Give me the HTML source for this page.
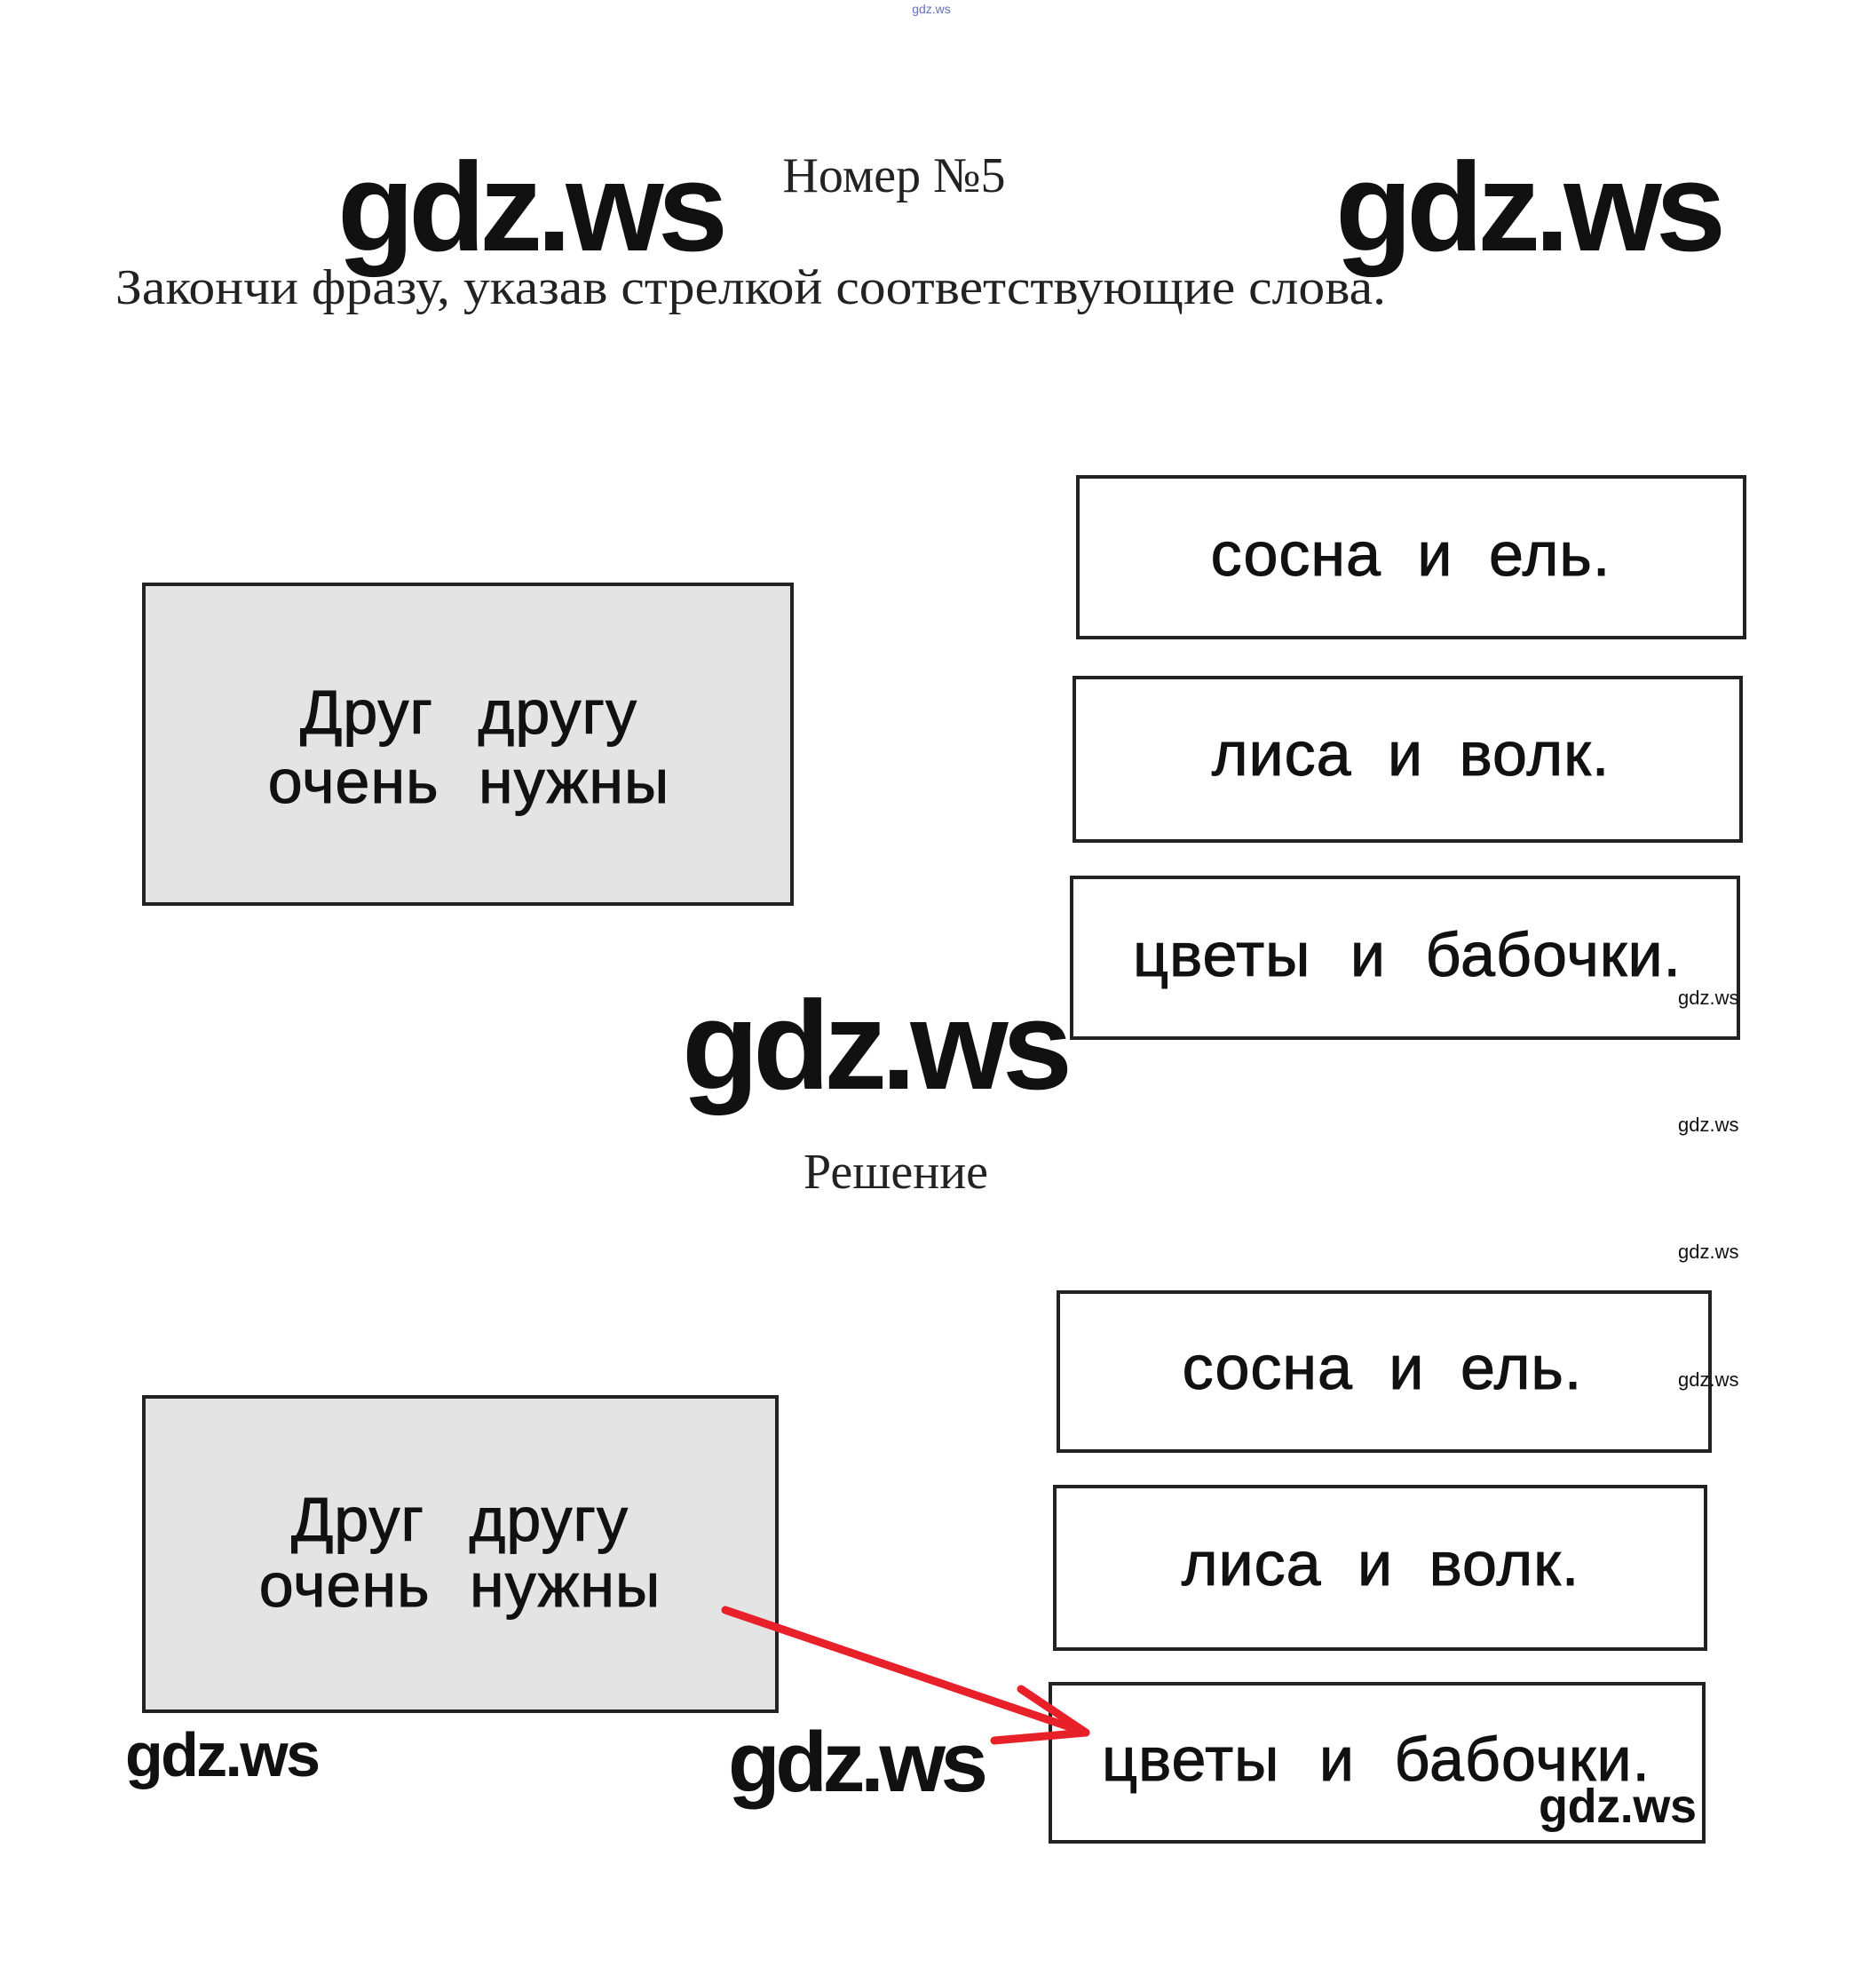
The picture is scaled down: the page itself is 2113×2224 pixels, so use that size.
<!DOCTYPE html>
<html><head><meta charset="utf-8"><style>
html,body{margin:0;padding:0;background:#fff;}
svg{display:block;}
</style></head><body>
<svg width="2113" height="2224" viewBox="0 0 2113 2224" xmlns="http://www.w3.org/2000/svg">
<g font-family="Liberation Sans, sans-serif">
<text x="1049" y="15" font-size="14" fill="#6670c0" text-anchor="middle">gdz.ws</text>
<text x="1007" y="216" font-size="56" font-family="Liberation Serif, serif" text-anchor="middle" fill="#222">Номер №5</text>
<text x="130" y="342" font-size="56" font-family="Liberation Serif, serif" fill="#222" textLength="1431" lengthAdjust="spacingAndGlyphs">Закончи фразу, указав стрелкой соответствующие слова.</text>
<text x="380" y="282" font-size="142" font-weight="bold" fill="#111" textLength="440">gdz.ws</text>
<text x="1504" y="282" font-size="142" font-weight="bold" fill="#111" textLength="440">gdz.ws</text>

<rect x="162" y="658" width="730" height="360" fill="#e4e4e4" stroke="#222" stroke-width="4"/>
<text x="528" y="826" font-size="70" text-anchor="middle" fill="#111" stroke="#111" stroke-width="1" word-spacing="30" letter-spacing="1">Друг другу</text>
<text x="528" y="904" font-size="70" text-anchor="middle" fill="#111" stroke="#111" stroke-width="1" word-spacing="24" letter-spacing="1">очень нужны</text>

<rect x="1214" y="537" width="751" height="181" fill="#fff" stroke="#222" stroke-width="4"/>
<text x="1589" y="648" font-size="70" text-anchor="middle" fill="#111" stroke="#111" stroke-width="1" word-spacing="20" letter-spacing="1">сосна и ель.</text>
<rect x="1210" y="763" width="751" height="184" fill="#fff" stroke="#222" stroke-width="4"/>
<text x="1589" y="873" font-size="70" text-anchor="middle" fill="#111" stroke="#111" stroke-width="1" word-spacing="20" letter-spacing="1">лиса и волк.</text>
<rect x="1207" y="988" width="751" height="181" fill="#fff" stroke="#222" stroke-width="4"/>
<text x="1585" y="1099" font-size="70" text-anchor="middle" fill="#111" stroke="#111" stroke-width="1" word-spacing="24" letter-spacing="1">цветы и бабочки.</text>

<text x="768" y="1226" font-size="142" font-weight="bold" fill="#111" textLength="440">gdz.ws</text>
<text x="1009" y="1338" font-size="56" font-family="Liberation Serif, serif" text-anchor="middle" fill="#222">Решение</text>

<rect x="162" y="1573" width="713" height="354" fill="#e4e4e4" stroke="#222" stroke-width="4"/>
<text x="518" y="1735" font-size="70" text-anchor="middle" fill="#111" stroke="#111" stroke-width="1" word-spacing="30" letter-spacing="1">Друг другу</text>
<text x="518" y="1809" font-size="70" text-anchor="middle" fill="#111" stroke="#111" stroke-width="1" word-spacing="24" letter-spacing="1">очень нужны</text>

<rect x="1192" y="1455" width="734" height="179" fill="#fff" stroke="#222" stroke-width="4"/>
<text x="1557" y="1564" font-size="70" text-anchor="middle" fill="#111" stroke="#111" stroke-width="1" word-spacing="20" letter-spacing="1">сосна и ель.</text>
<rect x="1188" y="1674" width="733" height="183" fill="#fff" stroke="#222" stroke-width="4"/>
<text x="1555" y="1785" font-size="70" text-anchor="middle" fill="#111" stroke="#111" stroke-width="1" word-spacing="20" letter-spacing="1">лиса и волк.</text>
<rect x="1183" y="1896" width="736" height="178" fill="#fff" stroke="#222" stroke-width="4"/>
<text x="1550" y="2005" font-size="70" text-anchor="middle" fill="#111" stroke="#111" stroke-width="1" word-spacing="24" letter-spacing="1">цветы и бабочки.</text>

<text x="1890" y="1131" font-size="22" fill="#111">gdz.ws</text>
<text x="1890" y="1274" font-size="22" fill="#111">gdz.ws</text>
<text x="1890" y="1417" font-size="22" fill="#111">gdz.ws</text>
<text x="1890" y="1561" font-size="22" fill="#111">gdz.ws</text>

<path d="M817 1813 L1223 1951" stroke="#e8202a" stroke-width="9" stroke-linecap="round" fill="none"/>
<path d="M1150 1902 L1223 1951 L1120 1960" stroke="#e8202a" stroke-width="9" stroke-linecap="round" stroke-linejoin="round" fill="none"/>

<text x="141" y="2000" font-size="70" font-weight="bold" fill="#111" textLength="220">gdz.ws</text>
<text x="820" y="2017" font-size="96" font-weight="bold" fill="#111" textLength="293">gdz.ws</text>
<text x="1733" y="2052" font-size="54" font-weight="bold" fill="#111" textLength="178">gdz.ws</text>
</g>
</svg>
</body></html>
